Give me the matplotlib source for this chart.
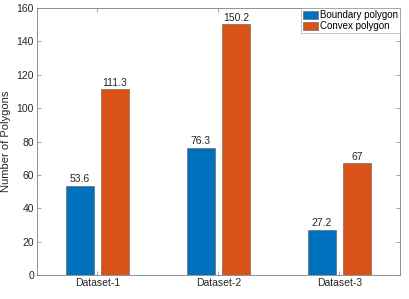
import numpy as np
import matplotlib.pyplot as plt

plt.rcParams['font.family'] = ['Liberation Sans', 'DejaVu Sans']

datasets = ['Dataset-1', 'Dataset-2', 'Dataset-3']
boundary = [53.6, 76.3, 27.2]
convex = [111.3, 150.2, 67]
boundary_labels = ['53.6', '76.3', '27.2']
convex_labels = ['111.3', '150.2', '67']

fig = plt.figure(figsize=(4.09, 2.99), dpi=100)
ax = fig.add_axes([0.090, 0.080, 0.888, 0.893])

x = np.arange(1, len(datasets) + 1)
w = 0.23
off = 0.145
b1 = ax.bar(x - off, boundary, w, color='#0072BD', edgecolor='#5a5a5a', linewidth=0.4, label='Boundary polygon')
b2 = ax.bar(x + off, convex, w, color='#D95319', edgecolor='#5a5a5a', linewidth=0.4, label='Convex polygon')

for xi, v, s in zip(x - off, boundary, boundary_labels):
    ax.text(xi, v + 1, s, ha='center', va='bottom', fontsize=7.5, color='#262626')
for xi, v, s in zip(x + off, convex, convex_labels):
    ax.text(xi, v + 1, s, ha='center', va='bottom', fontsize=7.5, color='#262626')

ax.set_xlim(0.5, 3.5)
ax.set_ylim(0, 160)
ax.set_xticks(x)
ax.set_xticklabels(datasets)
ax.set_yticks(np.arange(0, 161, 20))
ax.set_ylabel('Number of Polygons', fontsize=8, color='#262626')
ax.tick_params(direction='in', length=3, width=0.5, colors='#808080', labelcolor='#262626',
               labelsize=7.5, top=True, right=True, pad=2)
for sp in ax.spines.values():
    sp.set_color('#808080')
    sp.set_linewidth(0.6)

leg = ax.legend(loc='upper right', fontsize=7, frameon=True, fancybox=False,
                borderaxespad=0, handlelength=1.6, handleheight=0.9, handletextpad=0.2,
                labelspacing=0.1, borderpad=0.2)
leg.get_frame().set_edgecolor('#9a9a9a')
leg.get_frame().set_linewidth(0.5)

fig.savefig('out.png', dpi=100)
